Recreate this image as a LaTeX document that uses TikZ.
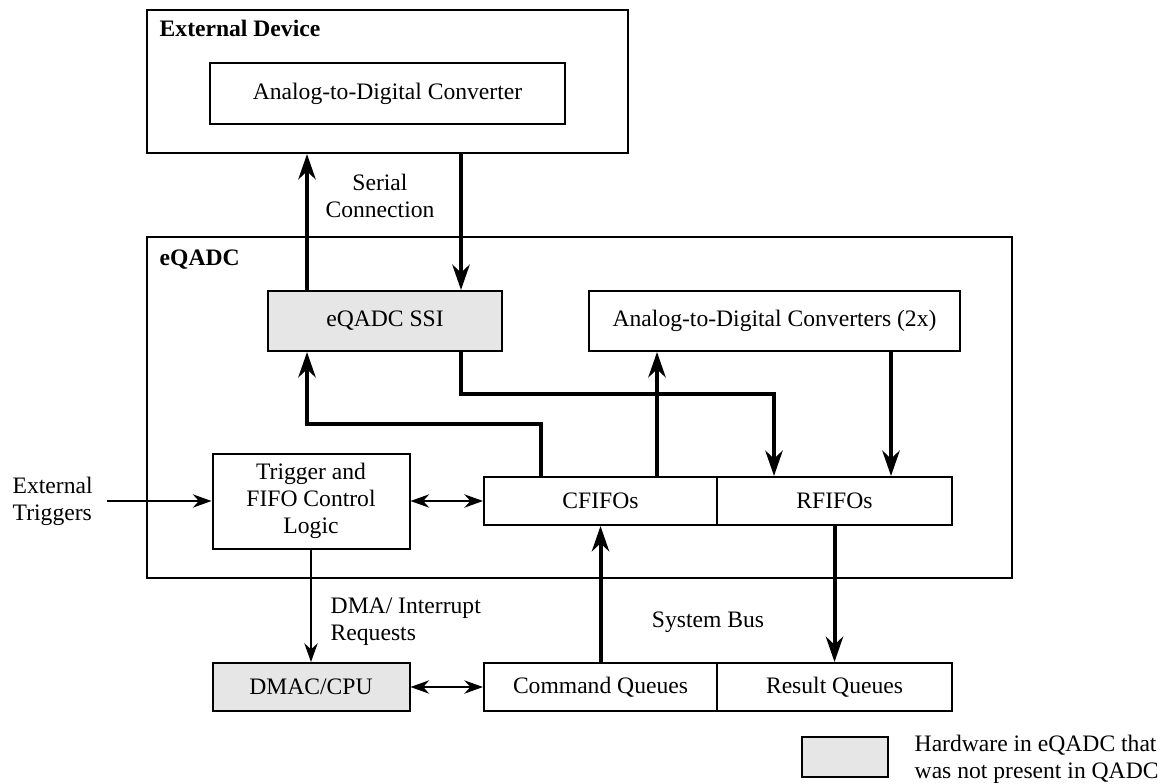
\documentclass[tikz,border=0pt]{standalone}
\usepackage{fontspec}
\setmainfont{Liberation Serif}
\usetikzlibrary{arrows.meta,calc}
\definecolor{hwgray}{HTML}{E6E6E6}
\newcommand{\diafont}{\fontsize{17.7}{20.25}\selectfont}

\begin{document}
\begin{tikzpicture}[
  x=0.75pt,y=-0.75pt,
  box/.style={draw,line width=1.5pt,font=\diafont,align=center,inner sep=2pt},
  newbox/.style={box,fill=hwgray},
  lbl/.style={font=\diafont,align=center},
  bus/.style={line width=3pt,-{Stealth[length=19pt,width=13pt,inset=6pt]}},
  sig/.style={line width=1.4pt,-{Stealth[length=14pt,width=10pt,inset=4.5pt]}},
  sigboth/.style={line width=1.4pt,
    {Stealth[length=14pt,width=10pt,inset=4.5pt]}-{Stealth[length=14pt,width=10pt,inset=4.5pt]}}
]
  \useasboundingbox (0,0) rectangle (1170,784);

  % Outer blocks
  \node[box,minimum width=360.75pt,minimum height=107.25pt] (extdev) at (387.5,81.5) {};
  \node[box,minimum width=648.75pt,minimum height=255.75pt] (eqadc) at (579.5,407.5) {};
  \node[lbl,font=\diafont\bfseries,anchor=west] (extlbl) at (155,28) {External Device};
  \node[lbl,font=\diafont\bfseries,anchor=west] (eqlbl) at (155,260) {eQADC};

  % External device
  \node[box,minimum width=266.25pt,minimum height=45.75pt] (adc) at (387.5,93.5) {Analog-to-Digital Converter};

  % eQADC internals
  \node[newbox,minimum width=175.5pt,minimum height=45pt] (ssi) at (385,321) {eQADC SSI};
  \node[box,minimum width=278.25pt,minimum height=45pt] (adcs) at (774.5,321) {Analog-to-Digital Converters (2x)};
  \node[box,minimum width=147.75pt,minimum height=71.25pt] (trig) at (311,501) {Trigger and\\FIFO Control\\Logic};
  \node[box,minimum width=174.75pt,minimum height=36pt] (cfifo) at (600.5,501) {CFIFOs};
  \node[box,minimum width=176.25pt,minimum height=36pt] (rfifo) at (834.5,501) {RFIFOs};

  % System side
  \node[newbox,minimum width=147.75pt,minimum height=36pt] (dmac) at (311,687) {DMAC/CPU};
  \node[box,minimum width=174.75pt,minimum height=36pt] (cmdq) at (600.5,687) {Command Queues};
  \node[box,minimum width=176.25pt,minimum height=36pt] (resq) at (834.5,687) {Result Queues};

  % Free labels
  \node[lbl] (serlbl) at (380,196) {Serial\\Connection};
  \node[lbl] (buslbl) at (708,622) {System Bus};
  \node[lbl,align=left,anchor=west] (dmalbl) at (326,622) {DMA/ Interrupt\\Requests};
  \node[lbl,align=left,anchor=west] (exttrig) at (8,501) {External\\Triggers};

  % Legend
  \node[newbox,minimum width=64.5pt,minimum height=30pt] (legbox) at (845,757) {};
  \node[lbl,align=left,anchor=west] (legtxt) at (910,759) {Hardware in eQADC that\\was not present in QADC};

  % Bus taps
  \coordinate (ssiup) at ($(ssi.north west)+(40,0)$);
  \coordinate (ssidn) at ($(ssi.north west)+(194,0)$);
  \coordinate (cfup) at ($(cfifo.north west)+(58,0)$);
  \coordinate (cfadc) at ($(cfifo.north west)+(174,0)$);
  \coordinate (rfssi) at ($(rfifo.north west)+(58,0)$);
  \coordinate (rfadc) at ($(rfifo.north west)+(175,0)$);

  % Thick data paths
  \draw[bus] (ssiup) -- (ssiup |- extdev.south);
  \draw[bus] (ssidn |- extdev.south) -- (ssidn);
  \draw[bus] (cfup) |- ($(ssiup |- ssi.south)+(0,72)$) -- (ssiup |- ssi.south);
  \draw[bus] (ssidn |- ssi.south) -- ++(0,42) -| (rfssi);
  \draw[bus] (cfadc) -- (cfadc |- adcs.south);
  \draw[bus] (rfadc |- adcs.south) -- (rfadc);
  \draw[bus] (cmdq.north) -- (cfifo.south);
  \draw[bus] (rfifo.south) -- (resq.north);

  % Control signals
  \draw[sigboth] (trig.east) -- (cfifo.west);
  \draw[sigboth] (dmac.east) -- (cmdq.west);
  \draw[sig] (trig.south) -- (dmac.north);
  \draw[sig] ($(exttrig.east)+(10,0)$) -- (trig.west);
\end{tikzpicture}
\end{document}
